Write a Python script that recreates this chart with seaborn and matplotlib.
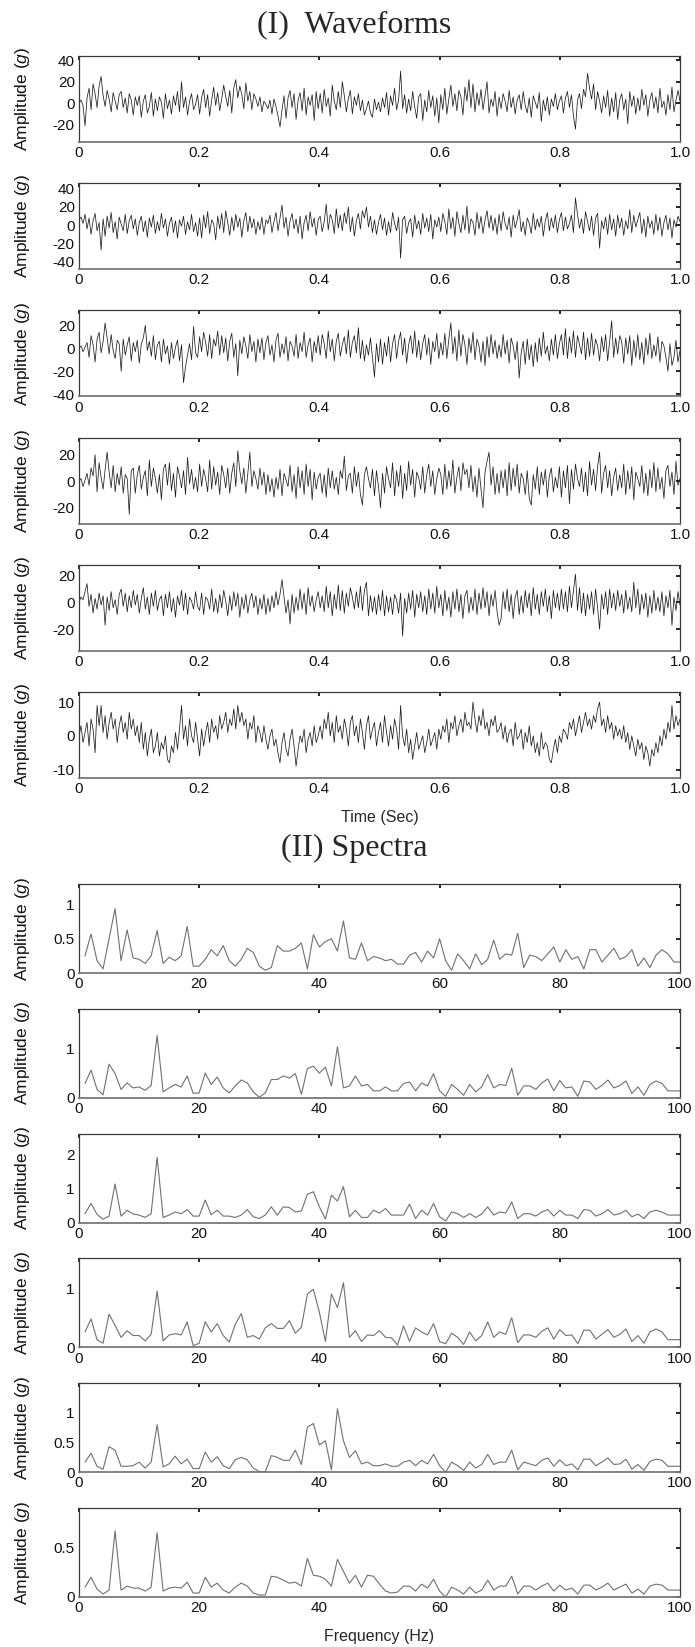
import numpy as np
import matplotlib
matplotlib.use("Agg")
import matplotlib.pyplot as plt
import seaborn as sns

sns.set_style("white")
plt.rcParams["font.family"] = ["Liberation Sans", "DejaVu Sans"]
plt.rcParams["mathtext.fontset"] = "custom"
plt.rcParams["mathtext.rm"] = "Liberation Sans"
plt.rcParams["mathtext.it"] = "Liberation Sans:italic"
plt.rcParams["axes.unicode_minus"] = False

# ---------------- data ----------------
wave_1 = [0, 3, -2, -21, 5, 14, -6, 18, 9, -4, 16, 25, 7, -3, 12, 4, -8, 10, 2, -6, 8, 11, -4, 5, -9, 9, 3, -11, 6, -2,
          7, -13, 2, 8, -9, -3, 10, -12, 4, -7, 6, 1, -14, 9, -5, 3, -10, 7, -2, 11, -8, 20, -4, 6, -11, 2, 9, -6, -1, 8,
          -10, 5, 13, -4, 8, -12, 3, 15, -2, 10, -7, 4, 17, 6, -3, 12, -9, 14, 22, 5, 16, 8, -5, 19, 2, 11, -6, 9, 4, -3,
          6, -8, 2, -1, -5, 3, -10, 4, -3, -12, -22, -6, 7, -14, 5, 12, -4, 9, -15, 3, 10, -7, 14, -11, 6, -2, 8, -16, 11, -5,
          9, -9, 13, -3, 5, -12, 17, 2, -6, 11, -4, 20, 7, -8, 4, 12, -10, 6, -2, 9, -7, 3, -11, -5, 2, -9, -13, 4, -6, 1,
          -8, 5, -4, 10, -11, 7, -2, 14, -6, 3, 30, -5, 8, -9, 4, -7, 11, -3, -14, 6, 9, -16, 3, -8, 12, -4, 7, -12, 5, -18,
          8, -6, 14, -10, 4, 17, -3, 9, -7, 12, 6, -11, 15, 2, 22, -4, 18, -8, 10, -2, 13, -6, 7, 20, -9, 4, -3, 11, -12, 6,
          -5, 9, 2, -8, 12, -4, 6, -10, 3, 8, -6, 11, -2, -9, 5, -13, 7, 1, -5, 10, -17, 3, -7, 6, -11, 4, -3, 9, -6, 2,
          7, -9, 5, 11, -4, 8, -12, -24, 3, 9, -5, 13, 6, 28, 14, 4, 18, -6, 11, 2, -9, 7, -4, 12, -12, 5, -8, 10, -15, 3,
          9, -6, 4, -19, 11, -3, 7, -10, 5, -7, 13, -2, 8, -12, 3, 10, -5, 6, -9, 14, -4, 2, -11, 8, -6, 15, -8, 3, 12, 2]

wave_2 = [6, 9, 2, 12, -4, 8, -10, 5, 13, -6, 3, -27, 7, -12, 10, -3, 14, -8, 4, -15, 9, 1, -6, 12, -9, 5, 11, -4, 7, -11,
          3, 10, -7, 5, -13, 8, -2, 11, -9, 4, -6, 13, -3, 7, -12, 2, 9, -8, 5, -14, 6, -1, 10, -10, 4, -5, 12, -7, 3, -12,
          8, -14, 11, -3, 15, -9, 6, 2, -16, 10, -4, 13, -8, 16, 3, -11, 9, -6, 12, -2, 8, -13, 5, 14, -7, 10, -3, 7, -10, 4,
          -5, 9, -10, 6, 2, 11, -8, 4, 14, -6, 8, 22, -3, 9, -12, 5, 13, -4, 7, -9, 10, -15, 3, 11, -6, 15, -2, 8, -11, 6,
          10, -7, 4, 23, -5, 12, 6, -9, 18, -3, 11, -6, 14, 2, 20, -7, 9, -12, 5, 13, -4, 16, 8, 20, -2, 10, -8, 6, -10, 3,
          12, -5, 8, -11, 4, -8, 14, 2, -6, 9, -36, 6, 10, -9, 3, 7, -13, 11, -4, 5, -10, 13, -3, 8, -7, 12, -15, 6, -2, 9,
          -7, 13, 4, -10, 18, -4, 9, -12, 15, 2, -8, 11, -5, 21, -9, 7, 3, -11, 14, -4, 10, -9, 6, 16, -3, 11, -6, 8, -10, 12,
          -6, 15, 2, -5, 9, -13, 11, -3, 6, 17, -7, 4, -11, 8, 2, -9, 13, -5, 7, -2, 10, -12, 5, 14, -6, 8, -3, 11, -8, 6,
          14, -6, 9, -4, 2, 11, -8, 30, 12, -3, 7, -9, 15, 4, -6, 10, -11, 8, 13, -25, 5, -4, 9, -10, 12, -5, 7, -12, 11, -3,
          8, -11, 5, -4, 17, -8, 11, -2, 6, 14, -9, 7, -13, 10, -3, 5, -10, 12, -6, 9, -12, 3, 11, -5, 8, -14, 6, -2, 10, 4]

wave_3 = [0, 2, -3, 1, 5, -8, 11, 3, -12, 8, 14, -4, 6, 22, 9, -5, 12, -2, -9, 7, 4, -20, 8, -6, 3, 10, -11, 5, -3, 7,
          -13, 4, 9, 20, -2, 6, -7, 11, -10, 3, 6, -12, 8, -5, 2, -14, 5, -9, 1, 7, -11, 3, -30, -16, -6, 4, -10, 19, -4, -8,
          10, -3, 14, 5, -7, 12, -9, 8, 2, 15, -6, 11, -4, 9, -11, 6, 13, -8, 4, -24, 7, -5, 10, 2, -9, 12, -3, 6, -12, 8,
          -4, 9, -10, 5, 11, -6, 3, -12, 7, 13, -8, 4, -5, 10, -11, 6, 2, -7, 12, -9, 5, -3, 14, -8, 3, 9, -12, 6, -4, 11,
          -6, 12, 4, -9, 15, -3, 8, -11, 6, 13, -7, 3, 10, -5, 16, -8, 5, 11, -4, 18, -9, 7, -11, 3, -6, 9, -8, -25, 4, -12,
          8, -14, 5, -7, 10, -12, 4, 12, -9, 6, 14, -6, 9, -13, 3, 11, -5, 15, -8, 7, -10, 4, 12, -6, 9, -14, 6, -3, 13, -9,
          5, -6, 13, -9, 8, 22, -5, 10, -11, 16, -7, 12, 3, -14, 9, -4, 14, -10, 8, 2, -12, 6, -15, 10, -8, 12, -5, 7, -9, 3,
          -8, 12, -5, 7, -13, 9, 2, -10, 6, -26, -4, 6, -14, 8, -10, 3, -16, 5, -12, 9, -7, 14, -5, 2, -11, 8, -6, 12, -9, 4,
          12, -6, 17, -9, 10, -4, 15, -8, 11, 3, -5, 14, -10, 9, -7, 13, -6, 8, 2, -11, 10, -3, 12, -11, 6, 24, -8, 9, -5, 11,
          6, -13, 9, -5, 11, -15, 7, -8, 12, -10, 5, -14, 9, -6, 13, -9, 3, -7, 10, -12, 6, 2, -8, -20, 4, -15, -8, 7, -12, -2]

wave_4 = [0, 2, -4, 1, 6, -3, 10, 4, 20, -8, 14, 3, -6, 9, 22, 7, -5, 12, -8, 6, -3, 11, -9, 5, 2, -25, 8, 10, -9, 5,
          12, -6, 3, 8, -11, 16, -4, 10, 2, -9, 5, -14, 9, 13, -3, 14, -7, 6, -12, 11, 4, -5, 8, -10, 18, -2, 9, -6, 3, -8,
          13, -4, 9, 2, -8, 16, -6, 11, -3, 7, -10, 12, 5, -5, 10, -9, 6, 14, -4, 23, 8, -2, 10, -9, 6, 22, -4, 8, 2, -6,
          10, -3, 7, -10, 5, -8, 2, -12, 3, -6, 9, -11, 6, 1, -4, 12, -8, 5, -13, 11, -5, 8, -10, 13, -4, 9, -14, 7, -6, 3,
          6, -9, 5, -12, 10, -5, 8, -6, 3, -10, 8, 2, 19, -7, 4, 6, -9, 11, -4, 7, -10, -18, 5, 11, 2, -5, 9, -11, 8, -4,
          -20, 6, -9, 11, 2, -5, 14, -11, 8, -4, 12, -13, 6, -7, 15, -3, 9, -12, 7, 3, -6, 11, -9, 5, 13, -4, 8, -10, 2, 10,
          5, -10, 13, -6, 8, -4, 16, -9, 3, 11, -7, 14, 5, 9, -5, 12, -8, 4, -12, 10, -6, -20, 7, 15, 22, -3, 11, -10, 6, -9,
          8, -5, 9, -11, 14, -7, 10, -4, 13, -9, 6, 2, -10, 8, -13, -18, 5, -6, 11, -10, 7, -3, 9, -12, 4, 10, -8, 3, -5, 11,
          -12, 8, -5, 12, -17, 9, -6, 13, 2, -4, 10, -8, 7, -11, 15, -3, 9, -7, 11, 22, -9, 6, 12, -5, 8, -11, 3, 10, -7, 5,
          -5, 13, -10, 8, -6, 11, -14, 7, 2, -4, 12, -9, 6, -11, 9, -5, 14, -8, 10, -6, 3, -13, 8, 12, -4, 7, -10, 15, -3, 2]

wave_5 = [0, 4, 2, 8, 14, -3, 6, -8, 3, -5, 7, -2, 5, -17, 4, -6, 8, -4, 2, -9, 6, 10, -3, 7, -7, 5, -4, 9, -2, 6,
          -8, 3, 11, -5, 4, -9, 7, -3, 9, -6, 2, 5, -10, 6, -4, 8, -7, 3, -11, 5, -2, 9, -6, 7, -9, 4, 1, -5, 8, -3,
          -6, 7, -9, 4, 2, -5, 10, -7, 3, -8, 6, -4, 9, 1, -10, 5, -6, 8, -3, 7, -11, 4, -5, 6, -8, 2, 7, -4, 5, -9,
          3, -5, 6, -9, 3, -7, 5, -4, 8, -2, 6, 17, 4, -8, 2, -16, 6, -8, 4, -6, 10, -5, 7, -9, 11, -3, 5, -7, 2, 8,
          -4, 5, -7, 12, -4, 8, -10, 6, -5, 13, -6, 9, -8, 7, -3, 11, 4, -5, 8, -4, 12, -6, 9, 15, -10, 5, -7, 4, -9, 6,
          -6, 9, -10, 5, -7, 4, -9, 6, 2, -8, 7, -25, 3, -8, 7, -5, 9, -11, 6, -4, 8, -7, 5, -9, 10, -5, 7, -8, 12, -4,
          6, -10, 9, -6, 4, -11, 8, -5, 10, -7, 6, -12, 5, 9, -8, 4, -6, 10, -9, 7, -5, 11, -4, 8, -10, 6, -3, 9, -7, -17,
          -12, 8, -5, 10, -7, 6, -12, 4, 9, -9, 5, -8, 9, -4, 7, -10, 11, -5, 6, -9, 8, -3, 10, -7, 5, -12, 9, -4, 7, -6,
          10, -5, 8, -7, 12, -4, 9, 21, -6, 11, -8, 7, -10, 6, -5, 8, -9, 10, -4, -20, 6, -5, 8, -9, 10, -4, 7, -6, 9, -3,
          6, -8, 9, -5, 4, -7, 15, -4, 10, -9, 6, -5, 7, -11, 5, -8, 9, -6, 4, -7, 8, -10, 5, -4, 9, -17, 4, -6, 8, -2]

wave_6 = [0, 3, -2, 1, 4, -3, 5, 2, -5, 9, 3, 9, 1, 6, -1, 4, 7, 2, 5, -2, 3, 6, 1, 4, -1, 7, 2, 5, 0, 3,
          -2, 4, -4, 1, -6, -1, 2, -5, -3, 1, -6, -2, -4, 0, -7, -8, -3, -5, 1, -4, 2, 9, -1, 3, -3, 5, 0, -2, 4, -1,
          -6, 2, -3, 1, 4, -2, 5, 1, 3, -1, 6, 2, 4, 7, 1, 5, 3, 8, 2, 9, 4, 7, 3, 5, -1, 4, 2, 6, -2, 3,
          1, -2, 3, -1, -4, 0, 2, -3, -1, -5, -8, -2, 1, -4, -6, -1, 2, -3, -9, -4, 0, -2, 2, -5, -1, 1, -3, 3, -2, 0,
          3, -1, 5, 2, 7, 0, 4, -2, 6, 1, 3, -1, 5, 2, -3, 4, 6, 0, 3, -2, 5, 1, -4, 3, 6, -1, 2, 4, -3, 1,
          4, -2, 6, 1, -3, 3, -1, 5, 2, -4, 9, 0, -3, 2, -5, -1, -7, -3, 1, -4, -2, 0, -5, -2, 2, -3, -1, 1, -4, 2,
          -1, 3, 1, 5, -2, 4, 2, 6, 0, 3, 5, 1, 7, 3, 4, 2, 10, 5, 1, 6, 3, 8, 2, 4, 0, 5, 3, 6, 1, 2,
          4, -1, 3, -2, 1, 2, -3, 4, -1, 0, 2, -4, 1, -2, 3, -3, 0, -5, -2, -6, 1, -4, -2, -3, -7, -8, -4, -1, -5, 0,
          -2, 2, 1, -1, 4, 2, 5, 0, 3, 6, 1, 4, 7, 3, 5, 2, 6, 4, 8, 10, 3, 5, 1, 6, 2, 4, -1, 3, 0, 2,
          -1, 3, -2, 1, -4, 0, -3, -6, -1, -4, -2, -7, -3, -5, -9, -4, -6, -2, -5, 0, -3, 2, -1, 4, 1, 9, 2, 6, 3, 5]

freq_hz = np.arange(1, 101)

spec_1 = [0.25, 0.57, 0.18, 0.06, 0.5, 0.94, 0.18, 0.63, 0.22, 0.2,
          0.14, 0.25, 0.62, 0.14, 0.23, 0.18, 0.25, 0.68, 0.1, 0.1,
          0.2, 0.34, 0.25, 0.4, 0.18, 0.1, 0.2, 0.36, 0.3, 0.1,
          0.04, 0.08, 0.4, 0.32, 0.32, 0.36, 0.44, 0.06, 0.56, 0.38,
          0.46, 0.5, 0.32, 0.76, 0.22, 0.2, 0.44, 0.18, 0.24, 0.22,
          0.18, 0.2, 0.13, 0.13, 0.26, 0.3, 0.16, 0.32, 0.22, 0.5,
          0.18, 0.04, 0.28, 0.18, 0.06, 0.28, 0.12, 0.2, 0.48, 0.2,
          0.28, 0.26, 0.58, 0.08, 0.26, 0.24, 0.18, 0.28, 0.38, 0.16,
          0.34, 0.2, 0.24, 0.06, 0.34, 0.34, 0.16, 0.26, 0.36, 0.2,
          0.24, 0.34, 0.1, 0.22, 0.08, 0.26, 0.34, 0.28, 0.16, 0.16]

spec_2 = [0.29, 0.56, 0.17, 0.06, 0.68, 0.49, 0.17, 0.3, 0.2, 0.22,
          0.15, 0.25, 1.26, 0.12, 0.2, 0.27, 0.22, 0.44, 0.09, 0.1,
          0.5, 0.27, 0.42, 0.2, 0.1, 0.24, 0.36, 0.3, 0.12, 0.01,
          0.1, 0.37, 0.37, 0.44, 0.4, 0.49, 0.07, 0.59, 0.64, 0.5,
          0.62, 0.24, 1.03, 0.2, 0.24, 0.44, 0.24, 0.27, 0.14, 0.14,
          0.22, 0.14, 0.14, 0.29, 0.32, 0.14, 0.3, 0.24, 0.49, 0.14,
          0.03, 0.27, 0.17, 0.05, 0.27, 0.12, 0.22, 0.47, 0.2, 0.27,
          0.25, 0.6, 0.05, 0.24, 0.24, 0.17, 0.3, 0.38, 0.14, 0.35,
          0.2, 0.22, 0.03, 0.34, 0.32, 0.17, 0.25, 0.36, 0.2, 0.25,
          0.34, 0.09, 0.22, 0.05, 0.27, 0.34, 0.29, 0.14, 0.14, 0.14]

spec_3 = [0.26, 0.56, 0.24, 0.1, 0.19, 1.13, 0.19, 0.36, 0.25, 0.22,
          0.15, 0.26, 1.91, 0.15, 0.22, 0.31, 0.26, 0.38, 0.19, 0.19,
          0.66, 0.23, 0.36, 0.19, 0.19, 0.15, 0.22, 0.38, 0.17, 0.12,
          0.22, 0.46, 0.22, 0.46, 0.44, 0.31, 0.34, 0.83, 0.9, 0.46,
          0.1, 0.8, 0.63, 1.05, 0.17, 0.36, 0.15, 0.15, 0.36, 0.28,
          0.41, 0.22, 0.22, 0.22, 0.54, 0.12, 0.36, 0.22, 0.56, 0.17,
          0.05, 0.31, 0.26, 0.15, 0.26, 0.15, 0.25, 0.46, 0.22, 0.31,
          0.28, 0.6, 0.12, 0.26, 0.26, 0.19, 0.31, 0.38, 0.19, 0.36,
          0.22, 0.22, 0.12, 0.38, 0.36, 0.19, 0.26, 0.38, 0.22, 0.26,
          0.36, 0.17, 0.25, 0.12, 0.31, 0.36, 0.31, 0.22, 0.22, 0.22]

spec_4 = [0.26, 0.48, 0.13, 0.07, 0.56, 0.37, 0.17, 0.28, 0.2, 0.2,
          0.11, 0.22, 0.95, 0.11, 0.21, 0.23, 0.21, 0.43, 0.03, 0.07,
          0.43, 0.26, 0.4, 0.2, 0.09, 0.39, 0.57, 0.17, 0.2, 0.14,
          0.33, 0.4, 0.32, 0.32, 0.45, 0.24, 0.34, 0.9, 0.98, 0.59,
          0.1, 0.9, 0.67, 1.09, 0.17, 0.28, 0.1, 0.21, 0.2, 0.28,
          0.17, 0.16, 0.04, 0.36, 0.1, 0.33, 0.26, 0.21, 0.4, 0.1,
          0.06, 0.24, 0.17, 0.05, 0.26, 0.11, 0.2, 0.43, 0.17, 0.26,
          0.22, 0.5, 0.08, 0.21, 0.21, 0.17, 0.27, 0.33, 0.14, 0.3,
          0.2, 0.21, 0.06, 0.29, 0.29, 0.14, 0.22, 0.3, 0.17, 0.22,
          0.31, 0.1, 0.2, 0.07, 0.26, 0.31, 0.26, 0.13, 0.13, 0.13]

spec_5 = [0.17, 0.32, 0.1, 0.05, 0.43, 0.37, 0.1, 0.1, 0.11, 0.17,
          0.07, 0.17, 0.8, 0.09, 0.14, 0.27, 0.14, 0.22, 0.06, 0.06,
          0.34, 0.17, 0.26, 0.11, 0.06, 0.21, 0.25, 0.21, 0.07, 0.01,
          0.01, 0.28, 0.25, 0.2, 0.2, 0.37, 0.13, 0.76, 0.82, 0.46,
          0.53, 0.04, 1.07, 0.53, 0.25, 0.36, 0.14, 0.17, 0.11, 0.11,
          0.14, 0.1, 0.1, 0.17, 0.2, 0.11, 0.2, 0.14, 0.3, 0.11,
          0.0, 0.17, 0.11, 0.03, 0.17, 0.07, 0.13, 0.3, 0.13, 0.17,
          0.17, 0.37, 0.04, 0.17, 0.14, 0.11, 0.2, 0.24, 0.1, 0.21,
          0.11, 0.14, 0.04, 0.22, 0.22, 0.11, 0.17, 0.24, 0.13, 0.14,
          0.22, 0.05, 0.13, 0.03, 0.18, 0.22, 0.2, 0.1, 0.1, 0.1]

spec_6 = [0.1, 0.2, 0.08, 0.03, 0.07, 0.67, 0.07, 0.11, 0.09, 0.09,
          0.06, 0.1, 0.65, 0.06, 0.09, 0.1, 0.09, 0.15, 0.04, 0.04,
          0.2, 0.1, 0.14, 0.07, 0.04, 0.1, 0.14, 0.11, 0.04, 0.02,
          0.02, 0.21, 0.2, 0.17, 0.14, 0.15, 0.11, 0.39, 0.22, 0.21,
          0.18, 0.11, 0.38, 0.26, 0.14, 0.22, 0.1, 0.22, 0.21, 0.13,
          0.06, 0.04, 0.05, 0.11, 0.11, 0.06, 0.13, 0.09, 0.18, 0.06,
          0.0, 0.1, 0.07, 0.03, 0.1, 0.04, 0.07, 0.17, 0.07, 0.11,
          0.11, 0.21, 0.03, 0.11, 0.11, 0.07, 0.11, 0.14, 0.06, 0.12,
          0.07, 0.09, 0.03, 0.12, 0.12, 0.07, 0.1, 0.14, 0.07, 0.1,
          0.13, 0.04, 0.08, 0.03, 0.11, 0.13, 0.12, 0.07, 0.07, 0.07]

waves = [wave_1, wave_2, wave_3, wave_4, wave_5, wave_6]
spectra = [spec_1, spec_2, spec_3, spec_4, spec_5, spec_6]

wave_ylims = [(-36, 44), (-48, 46), (-42, 33), (-32, 33), (-36, 28), (-12.5, 13)]
wave_yticks = [[-20, 0, 20, 40], [-40, -20, 0, 20, 40], [-40, -20, 0, 20],
               [-20, 0, 20], [-20, 0, 20], [-10, 0, 10]]
spec_ylims = [(0, 1.3), (0, 1.8), (0, 2.6), (0, 1.5), (0, 1.5), (0, 0.9)]
spec_yticks = [[0, 0.5, 1], [0, 1], [0, 1, 2], [0, 1], [0, 0.5, 1], [0, 0.5]]
spec_yticklabels = [["0", "0.5", "1"], ["0", "1"], ["0", "1", "2"], ["0", "1"],
                    ["0", "0.5", "1"], ["0", "0.5"]]
time_ticks = [0, 0.2, 0.4, 0.6, 0.8, 1.0]
time_ticklabels = ["0", "0.2", "0.4", "0.6", "0.8", "1.0"]
freq_ticks = [0, 20, 40, 60, 80, 100]

# ---------------- figure ----------------
W, H = 695, 1647
fig = plt.figure(figsize=(W / 100, H / 100), dpi=100)
fig.patch.set_facecolor("white")

LEFT, RIGHT = 79, 680
W_TOP0, W_STEP, W_H = 56, 127.2, 86
S_TOP0, S_STEP, S_H = 884, 124.8, 89


def make_axes(top, height):
    return fig.add_axes([LEFT / W, 1 - (top + height) / H, (RIGHT - LEFT) / W, height / H])


def style(ax):
    for s in ax.spines.values():
        s.set_visible(True)
        s.set_color("#3a3a3a")
        s.set_linewidth(0.9)
    ax.spines["bottom"].set_color("#777777")
    ax.spines["bottom"].set_linewidth(1.3)
    ax.tick_params(direction="in", length=3, width=1.3, top=True, right=True,
                   labelsize=11, pad=3, colors="#111111")
    ax.set_ylabel("Amplitude ($g$)", fontsize=12.5, color="#111111", va="center")
    ax.yaxis.set_label_coords((23 - LEFT) / (RIGHT - LEFT), 0.5)
    ax.grid(False)


fig.text(0.51, 1 - 25 / H, "(I)  Waveforms", ha="center", va="center",
         fontsize=23, family="Liberation Serif")
fig.text(0.51, 1 - 848 / H, "(II) Spectra", ha="center", va="center",
         fontsize=23, family="Liberation Serif")

for i, (w, yl, yt) in enumerate(zip(waves, wave_ylims, wave_yticks)):
    ax = make_axes(W_TOP0 + W_STEP * i, W_H)
    t = np.linspace(0, 1.0, len(w))
    sns.lineplot(x=t, y=w, ax=ax, color="#1e1e1e", linewidth=0.55)
    ax.set_xlim(0, 1.0)
    ax.set_ylim(*yl)
    ax.set_xticks(time_ticks)
    ax.set_xticklabels(time_ticklabels)
    ax.set_yticks(yt)
    style(ax)
    if i == 5:
        ax.set_xlabel("Time (Sec)", fontsize=11.5, va="center")
        ax.xaxis.set_label_coords(0.5, -(817 - (W_TOP0 + W_STEP * i + W_H)) / W_H)

for i, (sp, yl, yt, ytl) in enumerate(zip(spectra, spec_ylims, spec_yticks, spec_yticklabels)):
    ax = make_axes(S_TOP0 + S_STEP * i, S_H)
    sns.lineplot(x=freq_hz, y=sp, ax=ax, color="#707070", linewidth=0.8)
    ax.set_xlim(0, 100)
    ax.set_ylim(*yl)
    ax.set_xticks(freq_ticks)
    ax.set_yticks(yt)
    ax.set_yticklabels(ytl)
    style(ax)
    if i == 5:
        ax.set_xlabel("Frequency (Hz)", fontsize=11.5, va="center")
        ax.xaxis.set_label_coords(0.5, -(1637 - (S_TOP0 + S_STEP * i + S_H)) / S_H)

fig.savefig("out.png", dpi=100, facecolor="white")
